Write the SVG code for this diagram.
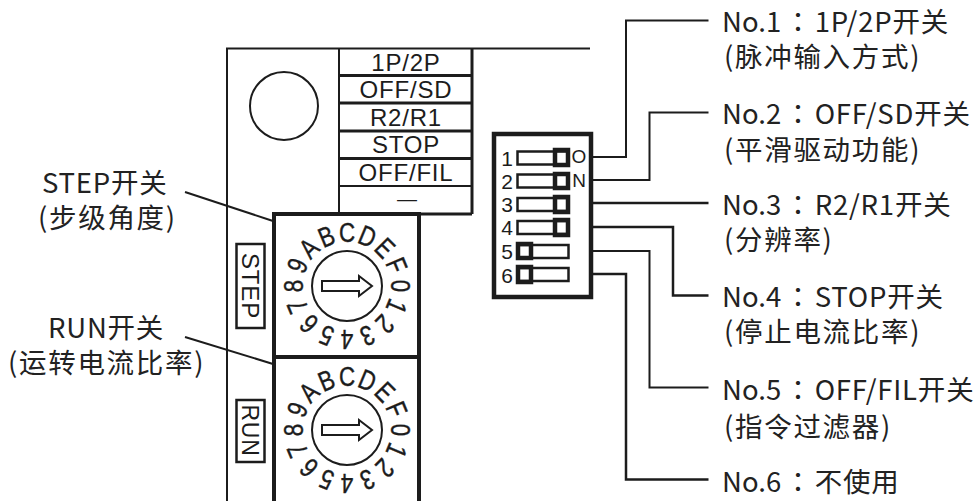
<svg xmlns="http://www.w3.org/2000/svg" width="977" height="501" viewBox="0 0 977 501">
<style>
.l{font-family:"Noto Sans CJK SC","Noto Sans",sans-serif;font-size:27.5px;fill:#222}
.w{letter-spacing:1.700px}
.k{letter-spacing:.8px}
.c{font-family:"Noto Sans CJK TC","Noto Sans CJK SC",sans-serif}
.p{font-family:"Liberation Sans",Arial,sans-serif;fill:#1c1c1c}
.t{font-size:24px;text-anchor:middle;letter-spacing:.8px}
.d{font-size:28px;text-anchor:middle;stroke:#1c1c1c;stroke-width:.4px}
.n{font-size:21px;text-anchor:middle}
.s{fill:none;stroke:#1c1c1c}
</style>
<rect width="977" height="501" fill="#fff"/>
<g id="panel">
<path class="s" stroke-width="2" d="M227 501V48.500H590"/>
<circle class="s" stroke-width="2" cx="284" cy="106" r="34"/>
</g>
<g id="table">
<path class="s" stroke-width="2" d="M339 48.500V214"/>
<path class="s" stroke-width="3" d="M472 48.500V214"/>
<path class="s" stroke-width="3" d="M339 75.500H472M339 103H472M339 131H472M339 158.500H472M339 214H472"/>
<path class="s" stroke-width="2" d="M339 186H472"/>
<text class="p t" x="406" y="71">1P/2P</text>
<text class="p t" x="406" y="98">OFF/SD</text>
<text class="p t" x="406" y="125.500">R2/R1</text>
<text class="p t" x="406" y="153">STOP</text>
<text class="p t" x="406" y="181">OFF/FIL</text>
<text class="p" x="397" y="205.500" font-size="20">—</text>
</g>
<g id="step-switch">
<rect class="s" stroke-width="4" x="274" y="214" width="145" height="143"/>
<circle class="s" stroke-width="2" cx="347" cy="286" r="35"/>
<path class="s" stroke-width="2" d="M322 281H359V276L372 286L359 296V291H322Z"/>
<g transform="translate(347 286)">
<text class="p d" transform="rotate(90) translate(0 -44) scale(.8 1)">0</text>
<text class="p d" transform="rotate(112.500) translate(0 -44) scale(.8 1)">1</text>
<text class="p d" transform="rotate(135) translate(0 -44) scale(.8 1)">2</text>
<text class="p d" transform="rotate(157.500) translate(0 -44) scale(.8 1)">3</text>
<text class="p d" transform="rotate(180) translate(0 -44) scale(.8 1)">4</text>
<text class="p d" transform="rotate(202.500) translate(0 -44) scale(.8 1)">5</text>
<text class="p d" transform="rotate(225) translate(0 -44) scale(.8 1)">6</text>
<text class="p d" transform="rotate(247.500) translate(0 -44) scale(.8 1)">7</text>
<text class="p d" transform="rotate(270) translate(0 -44) scale(.8 1)">8</text>
<text class="p d" transform="rotate(292.500) translate(0 -44) scale(.8 1)">9</text>
<text class="p d" transform="rotate(315) translate(0 -44) scale(.8 1)">A</text>
<text class="p d" transform="rotate(337.500) translate(0 -44) scale(.8 1)">B</text>
<text class="p d" transform="rotate(0) translate(0 -44) scale(.8 1)">C</text>
<text class="p d" transform="rotate(22.500) translate(0 -44) scale(.8 1)">D</text>
<text class="p d" transform="rotate(45) translate(0 -44) scale(.8 1)">E</text>
<text class="p d" transform="rotate(67.500) translate(0 -44) scale(.8 1)">F</text>
</g>
<rect class="s" stroke-width="2.500" x="236.500" y="244" width="28" height="84"/>
<text class="p t" transform="translate(242 286) rotate(90)">STEP</text>
</g>
<g id="run-switch">
<path class="s" stroke-width="4" d="M274 501V357H419V501"/>
<circle class="s" stroke-width="2" cx="347" cy="430" r="35"/>
<path class="s" stroke-width="2" d="M322 425H359V420L372 430L359 440V435H322Z"/>
<g transform="translate(347 430)">
<text class="p d" transform="rotate(90) translate(0 -44) scale(.8 1)">0</text>
<text class="p d" transform="rotate(112.500) translate(0 -44) scale(.8 1)">1</text>
<text class="p d" transform="rotate(135) translate(0 -44) scale(.8 1)">2</text>
<text class="p d" transform="rotate(157.500) translate(0 -44) scale(.8 1)">3</text>
<text class="p d" transform="rotate(180) translate(0 -44) scale(.8 1)">4</text>
<text class="p d" transform="rotate(202.500) translate(0 -44) scale(.8 1)">5</text>
<text class="p d" transform="rotate(225) translate(0 -44) scale(.8 1)">6</text>
<text class="p d" transform="rotate(247.500) translate(0 -44) scale(.8 1)">7</text>
<text class="p d" transform="rotate(270) translate(0 -44) scale(.8 1)">8</text>
<text class="p d" transform="rotate(292.500) translate(0 -44) scale(.8 1)">9</text>
<text class="p d" transform="rotate(315) translate(0 -44) scale(.8 1)">A</text>
<text class="p d" transform="rotate(337.500) translate(0 -44) scale(.8 1)">B</text>
<text class="p d" transform="rotate(0) translate(0 -44) scale(.8 1)">C</text>
<text class="p d" transform="rotate(22.500) translate(0 -44) scale(.8 1)">D</text>
<text class="p d" transform="rotate(45) translate(0 -44) scale(.8 1)">E</text>
<text class="p d" transform="rotate(67.500) translate(0 -44) scale(.8 1)">F</text>
</g>
<rect class="s" stroke-width="2.500" x="236.500" y="400" width="28" height="62"/>
<text class="p t" transform="translate(242 430.500) rotate(90)" style="font-size:23px">RUN</text>
</g>
<g id="dip-switch">
<rect class="s" stroke-width="4.500" x="494" y="134" width="97" height="163"/>
<g class="s" stroke-width="2.500">
<rect x="517.500" y="151.500" width="51" height="13"/>
<rect x="517.500" y="174.500" width="51" height="13"/>
<rect x="517.500" y="198" width="51" height="13"/>
<rect x="517.500" y="221" width="51" height="13"/>
<rect x="517.500" y="245" width="51" height="13"/>
<rect x="517.500" y="268" width="51" height="13"/>
</g>
<g class="s" stroke-width="4.500">
<rect x="555" y="150" width="13" height="15"/>
<rect x="555" y="174" width="13" height="14"/>
<rect x="555" y="197" width="13" height="15"/>
<rect x="555" y="220" width="13" height="15"/>
<rect x="518" y="244" width="13" height="14"/>
<rect x="518" y="267" width="13" height="15"/>
</g>
<text class="p n" x="507" y="166">1</text>
<text class="p n" x="507" y="188.500">2</text>
<text class="p n" x="507" y="212">3</text>
<text class="p n" x="507" y="235">4</text>
<text class="p n" x="507" y="259">5</text>
<text class="p n" x="507" y="282.500">6</text>
<text class="p n" x="579" y="163" style="font-size:19px">O</text>
<text class="p n" x="579" y="187" style="font-size:19px">N</text>
</g>
<g id="connectors" class="s" stroke-width="2">
<path d="M592 157H626V20.500H708.500"/>
<path d="M592 180H649.500V112.500H708.500"/>
<path d="M592 203H708.500" stroke-width="2.500"/>
<path d="M592 227H673V295.500H708.500" stroke-width="2.500"/>
<path d="M592 251H649.500V387.500H708.500"/>
<path d="M592 274H626V479.500H708.500" stroke-width="2.500"/>
<path d="M185 192L273 221"/>
<path d="M185 337L273 364"/>
</g>
<g id="labels">
<text class="l" x="722" y="32">No.1<tspan class="c" dx="3">：</tspan><tspan class="k" dx="3">1P/2P开关</tspan></text>
<text class="l w" x="724" y="67">(脉冲输入方式)</text>
<text class="l" x="722" y="124">No.2<tspan class="c" dx="3">：</tspan><tspan class="k" dx="3">OFF/SD开关</tspan></text>
<text class="l w" x="724" y="160">(平滑驱动功能)</text>
<text class="l" x="722" y="215">No.3<tspan class="c" dx="3">：</tspan><tspan class="k" dx="3">R2/R1开关</tspan></text>
<text class="l w" x="724" y="250">(分辨率)</text>
<text class="l" x="722" y="307">No.4<tspan class="c" dx="3">：</tspan><tspan class="k" dx="3">STOP开关</tspan></text>
<text class="l w" x="724" y="342">(停止电流比率)</text>
<text class="l" x="722" y="400">No.5<tspan class="c" dx="3">：</tspan><tspan class="k" dx="3">OFF/FIL开关</tspan></text>
<text class="l w" x="724" y="437">(指令过滤器)</text>
<text class="l" x="722" y="492">No.6<tspan class="c" dx="3">：</tspan><tspan class="k" dx="3">不使用</tspan></text>
<text class="l k" x="42" y="193">STEP开关</text>
<text class="l w" x="38" y="228">(步级角度)</text>
<text class="l k" x="48" y="338">RUN开关</text>
<text class="l w" x="8" y="373">(运转电流比率)</text>
</g>
</svg>
